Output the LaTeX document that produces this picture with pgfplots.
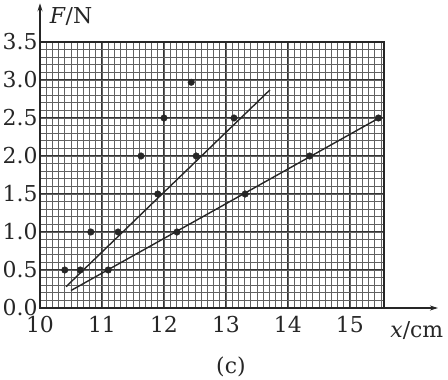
\documentclass[border=0pt]{standalone}
\usepackage{fontspec}
\setmainfont{DejaVu Serif}
\usepackage{pgfplots}
\pgfplotsset{compat=1.18}
\usetikzlibrary{arrows.meta}
\begin{document}
\begin{tikzpicture}
\path[use as bounding box] (-40bp,-72bp) rectangle (408bp,308bp);
\begin{axis}[
 at={(0,0)}, anchor=south west, scale only axis,
 width=344bp, height=266bp,
 xmin=10, xmax=15.55, ymin=0, ymax=3.5,
 xtick={10,...,15}, ytick={0,0.5,...,3.5},
 minor xtick={10.1,10.2,...,15.5}, minor ytick={0.1,0.2,...,3.4},
 grid=both,
 minor grid style={black!62, line width=0.75bp},
 major grid style={black!80, line width=1bp},
 major tick length=0, minor tick length=0,
 axis line style={black!85, line width=1.2bp},
 tick label style={font=\fontsize{22}{24}\selectfont, text=black!85},
 xticklabel style={yshift=-8bp, inner ysep=0.5bp},
 yticklabel style={xshift=1bp, inner ysep=0.5bp},
 /pgf/number format/assume math mode=true,
 yticklabel style={/pgf/number format/.cd, fixed, fixed zerofill, precision=1},
 clip=false,
]
\addplot[black!85, line width=1.4bp] coordinates {(10.42,0.28) (13.71,2.87)};
\addplot[black!85, line width=1.4bp] coordinates {(10.50,0.23) (15.47,2.5)};
\addplot[only marks, mark=*, mark size=3.3bp, black!85] coordinates {
 (10.40,0.5) (10.65,0.5) (10.82,1.0) (11.26,1.0) (11.63,2.0) (11.90,1.5)
 (12.00,2.5) (12.44,2.97) (12.52,2.0) (13.13,2.5)};
\addplot[only marks, mark=*, mark size=3.3bp, black!85] coordinates {
 (11.10,0.5) (12.21,1.0) (13.31,1.5) (14.35,2.0) (15.46,2.5)};
\draw[black!85, line width=1.2bp, -{Stealth[length=8bp,width=5bp]}] (axis cs:15.55,0) -- (axis cs:16.42,0);
\draw[black!85, line width=1.2bp, -{Stealth[length=8bp,width=5bp]}] (axis cs:10,3.5) -- (axis cs:10,4.01);
\node[font=\fontsize{22}{24}\selectfont, text=black!85] at (axis cs:10.5,3.83) {\textit{F}/N};
\node[font=\fontsize{22}{24}\selectfont, text=black!85] at (axis cs:16.08,-0.29) {\textit{x}/cm};
\node[font=\fontsize{22}{24}\selectfont, text=black!85] at (axis cs:13.08,-0.78) {(c)};
\end{axis}
\end{tikzpicture}
\end{document}
